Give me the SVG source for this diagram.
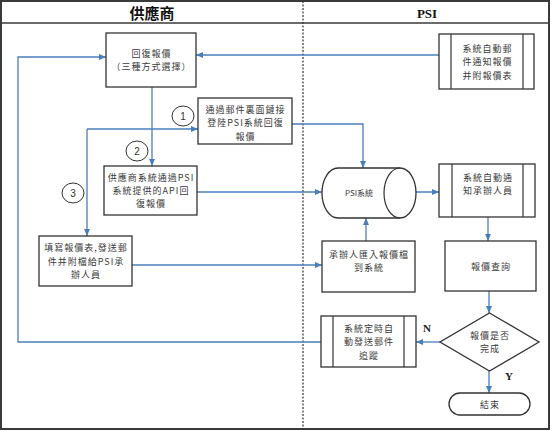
<svg xmlns="http://www.w3.org/2000/svg" width="553" height="431" viewBox="0 0 553 431">
<style>
.box{fill:#fff;stroke:#333;stroke-width:1.3}
.in{stroke:#333;stroke-width:1.2;fill:none}
.t{font-family:"Noto Sans CJK TC","Noto Sans CJK SC",sans-serif;font-size:9px;letter-spacing:1px;fill:#3a3a3a;text-anchor:middle}
.n{font-family:"Liberation Sans",sans-serif;font-size:10px;fill:#333;text-anchor:middle}
.yn{font-family:"Liberation Serif",serif;font-size:11px;font-weight:bold;fill:#222;text-anchor:middle}
.c{fill:none;stroke:#4a7ebb;stroke-width:1.3}
.circ{fill:#fff;stroke:#333;stroke-width:1}
</style>
<defs>
<marker id="ah" markerWidth="7" markerHeight="6" refX="7" refY="3" orient="auto" markerUnits="userSpaceOnUse">
<path d="M0,0 L7,3 L0,6 Z" fill="#4a7ebb"/>
</marker>
</defs>
<rect x="0" y="0" width="553" height="431" fill="#fff"/>
<g id="frame">
<rect x="1" y="1" width="548" height="428" fill="none" stroke="#3a3a3a" stroke-width="2"/>
<line x1="1" y1="23" x2="549" y2="23" stroke="#3a3a3a" stroke-width="1.3"/>
<line x1="303" y1="1" x2="303" y2="430" stroke="#333" stroke-width="1.2" stroke-dasharray="2,1.5"/>
<text x="152" y="19" font-family="Noto Sans CJK TC,sans-serif" font-size="15" font-weight="bold" fill="#111" text-anchor="middle">供應商</text>
<text x="427" y="18" font-family="Liberation Serif,serif" font-size="13" font-weight="bold" fill="#111" text-anchor="middle">PSI</text>
</g>
<g id="connectors">
<path class="c" d="M439,55 L196,55" marker-end="url(#ah)"/>
<path class="c" d="M321,342 L18,342 L18,57 L106,57" marker-end="url(#ah)"/>
<path class="c" d="M152,87 L152,166" marker-end="url(#ah)"/>
<path class="c" d="M87,129 L198,129" marker-end="url(#ah)"/>
<path class="c" d="M87,129 L87,236" marker-end="url(#ah)"/>
<path class="c" d="M292,124 L363,124 L363,168" marker-end="url(#ah)"/>
<path class="c" d="M197,192 L322,192" marker-end="url(#ah)"/>
<path class="c" d="M132,265 L322,265" marker-end="url(#ah)"/>
<path class="c" d="M366,241 L366,218" marker-end="url(#ah)"/>
<path class="c" d="M400,192 L439,192" marker-end="url(#ah)"/>
<path class="c" d="M488,217 L488,241" marker-end="url(#ah)"/>
<path class="c" d="M489,291 L489,313" marker-end="url(#ah)"/>
<path class="c" d="M440,342 L416,342" marker-end="url(#ah)"/>
<path class="c" d="M489,371 L489,393" marker-end="url(#ah)"/>
</g>
<g id="reply">
<rect class="box" x="106" y="33" width="90" height="54"/>
<text class="t" x="151.5" y="57">回復報價</text>
<text class="t" x="151.5" y="70.3">（三種方式選擇）</text>
</g>
<g id="notify-mail">
<rect class="box" x="439" y="34" width="95" height="55"/>
<line class="in" x1="451" y1="34" x2="451" y2="89"/>
<line class="in" x1="523" y1="34" x2="523" y2="89"/>
<text class="t" x="487.5" y="52">系統自動郵</text>
<text class="t" x="487.5" y="65.3">件通知報價</text>
<text class="t" x="487.5" y="78.6">并附報價表</text>
</g>
<g id="opt1">
<ellipse class="circ" cx="183" cy="116" rx="11" ry="10"/>
<text class="n" x="183" y="120">1</text>
<rect class="box" x="198" y="98" width="94" height="46"/>
<text class="t" x="245.5" y="113">通過郵件裏面鏈接</text>
<text class="t" x="245.5" y="126.3">登陸PSI系統回復</text>
<text class="t" x="245.5" y="139.6">報價</text>
</g>
<g id="opt2">
<ellipse class="circ" cx="137" cy="151" rx="11" ry="10"/>
<text class="n" x="137" y="155">2</text>
<rect class="box" x="104" y="166" width="93" height="49"/>
<text class="t" x="151" y="180.5">供應商系統通過PSI</text>
<text class="t" x="151" y="193.8">系統提供的API回</text>
<text class="t" x="151" y="207.1">復報價</text>
</g>
<g id="opt3">
<ellipse class="circ" cx="73" cy="193" rx="11" ry="10"/>
<text class="n" x="73" y="197">3</text>
<rect class="box" x="39" y="236" width="93" height="50"/>
<text class="t" x="86" y="250.5">填寫報價表,發送郵</text>
<text class="t" x="86" y="264.5">件并附檔給PSI承</text>
<text class="t" x="86" y="278">辦人員</text>
</g>
<g id="psi-system">
<path class="box" d="M338,168 L400,168 A16,25 0 0 1 400,218 L338,218 A16,25 0 0 1 338,168 Z"/>
<path class="in" d="M400,168 A16,25 0 0 0 400,218"/>
<text x="359" y="196" font-family="Noto Sans CJK TC,sans-serif" font-size="8" fill="#3a3a3a" text-anchor="middle">PSI系統</text>
</g>
<g id="notify-handler">
<rect class="box" x="439" y="164" width="96" height="53"/>
<line class="in" x1="452" y1="164" x2="452" y2="217"/>
<line class="in" x1="523" y1="164" x2="523" y2="217"/>
<text class="t" x="488" y="180.5">系統自動通</text>
<text class="t" x="488" y="193.8">知承辦人員</text>
</g>
<g id="import">
<rect class="box" x="322" y="241" width="93" height="51"/>
<text class="t" x="369" y="258">承辦人匯入報價檔</text>
<text class="t" x="369" y="271.3">到系統</text>
</g>
<g id="query">
<rect class="box" x="445" y="241" width="91" height="50"/>
<text class="t" x="491" y="270">報價查詢</text>
</g>
<g id="decision">
<path class="box" d="M489.5,313 L539,342 L489.5,371 L440,342 Z"/>
<text class="t" x="490" y="339">報價是否</text>
<text class="t" x="490" y="352.3">完成</text>
<text class="yn" x="427" y="332">N</text>
<text class="yn" x="509" y="380">Y</text>
</g>
<g id="followup">
<rect class="box" x="321" y="316" width="95" height="51"/>
<line class="in" x1="333" y1="316" x2="333" y2="367"/>
<line class="in" x1="404" y1="316" x2="404" y2="367"/>
<text class="t" x="369" y="332">系統定時自</text>
<text class="t" x="369" y="345.3">動發送郵件</text>
<text class="t" x="369" y="358.6">追蹤</text>
</g>
<g id="end">
<rect class="box" x="449" y="393" width="81" height="22" rx="11" ry="11"/>
<text class="t" x="490" y="407.5">結束</text>
</g>
</svg>
